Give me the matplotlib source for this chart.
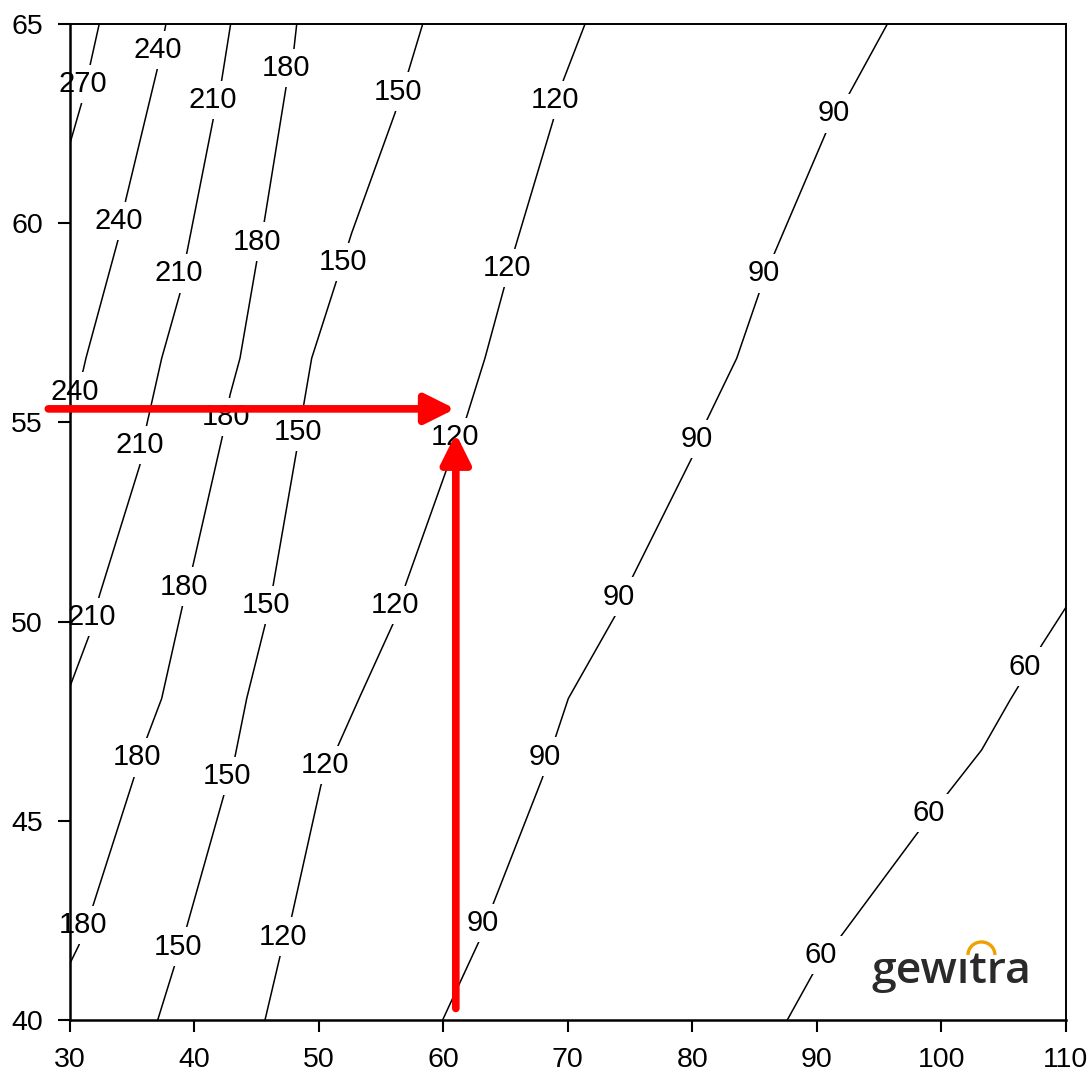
import matplotlib
matplotlib.use("Agg")
import matplotlib.pyplot as plt
from matplotlib.patches import FancyArrowPatch, Arc

# ---- data ----
levels = [270, 240, 210, 180, 150, 120, 90, 60]

line_270_x = [30.0, 30.94, 32.35]
line_270_y = [62.0, 63.02, 65.0]
line_240_x = [30.0, 31.07, 31.29, 33.88, 34.48, 37.01, 37.71]
line_240_y = [55.16, 56.32, 56.62, 59.60, 60.58, 63.86, 65.0]
line_210_x = [30.0, 31.55, 32.35, 35.62, 36.16, 37.37, 38.84, 39.38, 41.51, 42.19, 42.91]
line_210_y = [48.37, 49.66, 50.64, 53.93, 54.93, 56.61, 58.24, 59.24, 62.61, 63.59, 65.0]
line_180_x = [30.0, 30.72, 31.87, 35.17, 36.16, 37.37, 39.06, 39.86, 42.27, 42.86, 43.66,
              45.00, 45.61, 47.36, 48.00, 48.22]
line_180_y = [41.42, 41.88, 42.89, 46.11, 47.07, 48.07, 50.42, 51.38, 54.68, 55.69, 56.61,
              59.03, 60.04, 63.41, 64.39, 65.0]
line_150_x = [37.05, 38.38, 39.38, 42.37, 43.26, 44.20, 45.67, 46.33, 48.21, 48.80, 49.42,
              51.43, 52.63, 56.11, 57.18, 58.34]
line_150_y = [40.0, 41.34, 42.34, 45.65, 46.61, 48.07, 49.91, 50.92, 54.29, 55.48, 56.61,
              58.57, 59.75, 62.76, 63.80, 65.0]
line_120_x = [45.67, 46.87, 47.81, 50.17, 51.56, 53.30, 55.98, 57.00, 60.67, 61.87, 63.34,
              64.87, 65.75, 68.83, 69.64, 71.38]
line_120_y = [40.0, 41.59, 42.59, 45.90, 46.90, 48.12, 49.96, 50.96, 54.18, 55.14, 56.61,
              58.37, 59.37, 62.59, 63.59, 65.0]
line_90_x = [59.94, 62.86, 64.07, 67.95, 69.02, 70.04, 73.79, 75.21, 79.95, 81.20, 83.57,
             85.36, 86.59, 90.72, 92.59, 95.67]
line_90_y = [40.0, 41.97, 42.97, 46.07, 47.11, 48.07, 50.14, 51.13, 54.10, 55.08, 56.61,
             58.24, 59.24, 62.26, 63.24, 65.0]
line_60_x = [87.63, 89.67, 92.00, 98.08, 100.52, 103.25, 105.53, 106.19, 108.07, 110.0]
line_60_y = [40.0, 41.15, 42.13, 44.69, 45.69, 46.78, 48.03, 48.37, 49.41, 50.35]

lines_x = [line_270_x, line_240_x, line_210_x, line_180_x, line_150_x, line_120_x, line_90_x, line_60_x]
lines_y = [line_270_y, line_240_y, line_210_y, line_180_y, line_150_y, line_120_y, line_90_y, line_60_y]

# contour label positions (x, y) per level
labels_270 = [(31.04, 63.49)]
labels_240 = [(30.40, 55.77), (33.94, 60.06), (37.09, 64.35)]
labels_210 = [(31.74, 50.12), (35.62, 54.43), (38.76, 58.74), (41.51, 63.09)]
labels_180 = [(31.07, 42.38), (35.36, 46.59), (39.18, 50.88), (42.53, 55.14), (45.00, 59.54), (47.36, 63.89)]
labels_150 = [(38.65, 41.84), (42.59, 46.12), (45.72, 50.42), (48.30, 54.77), (51.96, 59.03), (56.38, 63.30)]
labels_120 = [(47.09, 42.09), (50.49, 46.40), (56.11, 50.42), (60.93, 54.64), (65.09, 58.87), (68.97, 63.09)]
labels_90 = [(63.16, 42.44), (68.11, 46.61), (74.13, 50.63), (80.35, 54.58), (85.76, 58.74), (91.33, 62.76)]
labels_60 = [(90.33, 41.63), (98.96, 45.19), (106.73, 48.87)]
label_sets = [labels_270, labels_240, labels_210, labels_180, labels_150, labels_120, labels_90, labels_60]

x_ticks = [30, 40, 50, 60, 70, 80, 90, 100, 110]
y_ticks = [40, 45, 50, 55, 60, 65]

# reading example (red arrows)
read_x = 61.0
read_y = 55.34
arrow_h_start = 28.26
arrow_h_end = 60.95
arrow_v_start = 40.29
arrow_v_end = 54.72

# ---- figure ----
plt.rcParams['font.family'] = ['Liberation Sans', 'DejaVu Sans']
fig = plt.figure(figsize=(10.88, 10.72), dpi=100)
ax = fig.add_axes([0.0643, 0.0485, 0.9152, 0.9291])
ax.set_xlim(30, 110)
ax.set_ylim(40, 65)
ax.set_axisbelow(False)

for xs, ys in zip(lines_x, lines_y):
    ax.plot(xs, ys, color='black', lw=1.1, zorder=2, solid_capstyle='butt')

for lev, labs in zip(levels, label_sets):
    for (lx, ly) in labs:
        ax.text(lx, ly, str(lev), fontsize=21, ha='center', va='center', color='black',
                zorder=2.3,
                bbox=dict(boxstyle='square,pad=0.18', fc='white', ec='none'))

ax.set_xticks(x_ticks)
ax.set_yticks(y_ticks)
ax.tick_params(direction='out', length=8.5, width=1.5, labelsize=20.5, pad=11,
               colors='black', top=False, right=False)
for side in ['left', 'bottom']:
    ax.spines[side].set_linewidth(1.8)
for side in ['top', 'right']:
    ax.spines[side].set_linewidth(1.4)
for sp in ax.spines.values():
    sp.set_zorder(2.6)

# red arrows
style = '-|>,head_length=18,head_width=9'
arr_h = FancyArrowPatch((arrow_h_start, read_y), (arrow_h_end, read_y),
                        arrowstyle=style, mutation_scale=1, lw=5.5, color='#ff0000',
                        shrinkA=0, shrinkB=0, zorder=5, clip_on=False)
arr_v = FancyArrowPatch((read_x, arrow_v_start), (read_x, arrow_v_end),
                        arrowstyle=style, mutation_scale=1, lw=5.5, color='#ff0000',
                        shrinkA=0, shrinkB=0, zorder=5, clip_on=False)
ax.add_patch(arr_h)
ax.add_patch(arr_v)

# logo
ax.text(0.805, 0.0368, 'gew\u0131tra', transform=ax.transAxes, fontsize=32,
        family=['Open Sans', 'DejaVu Sans'], fontweight='semibold',
        color='#2a2a2a', ha='left', va='baseline', zorder=4)
ax.add_patch(Arc((0.9154, 0.0653), 0.0271, 0.0261, theta1=0, theta2=180,
                 transform=ax.transAxes, color='#f0a000', lw=2.4, zorder=4))

fig.savefig('out.png', dpi=100)
